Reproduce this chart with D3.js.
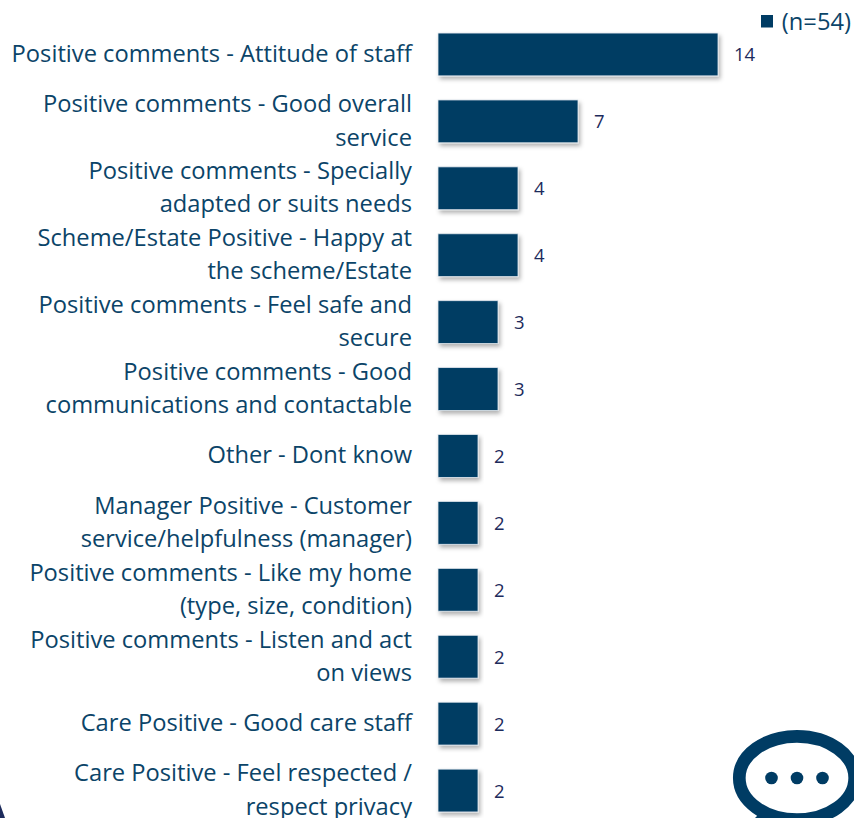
<!DOCTYPE html>
<html>
<head>
<meta charset="utf-8">
<script src="https://cdn.jsdelivr.net/npm/d3@7"></script>
<style>
  html, body { margin: 0; padding: 0; background: #fff; overflow: hidden; }
  text { font-family: "Open Sans", sans-serif; }
</style>
</head>
<body>
<svg id="chart" width="854" height="818"></svg>
<script>
// labels are split on | where the original wraps
const categories = [
  "Positive comments - Attitude of staff",
  "Positive comments - Good overall|service",
  "Positive comments - Specially|adapted or suits needs",
  "Scheme/Estate Positive - Happy at|the scheme/Estate",
  "Positive comments - Feel safe and|secure",
  "Positive comments - Good|communications and contactable",
  "Other - Dont know",
  "Manager Positive - Customer|service/helpfulness (manager)",
  "Positive comments - Like my home|(type, size, condition)",
  "Positive comments - Listen and act|on views",
  "Care Positive - Good care staff",
  "Care Positive - Feel respected /|respect privacy"
];
const values = [14, 7, 4, 4, 3, 3, 2, 2, 2, 2, 2, 2];
const seriesName = "(n=54)";

const navy = "#003c64";
const labelColor = "#0b4468";
const valueColor = "#1d2b5c";

let svg = d3.select("#chart");

// soft shadow on the bars
let defs = svg.append("defs");
let shadow = defs.append("filter")
  .attr("id", "barShadow")
  .attr("x", "-10%").attr("y", "-20%")
  .attr("width", "125%").attr("height", "150%");
shadow.append("feDropShadow")
  .attr("dx", 2).attr("dy", 3)
  .attr("stdDeviation", 2)
  .attr("flood-color", "#000")
  .attr("flood-opacity", 0.3);

let xScale = d3.scaleLinear().domain([0, 14]).range([438, 718]);

let yScale = d3.scaleBand()
  .domain(categories)
  .range([21, 824])
  .paddingInner(0.36)
  .paddingOuter(0.18);

// category axis, tick text gets replaced by wrapped lines
let yAxis = d3.axisLeft(yScale).tickSize(0).tickPadding(0);
let gY = svg.append("g")
  .attr("transform", "translate(412,0)")
  .call(yAxis);
gY.select(".domain").remove();
gY.selectAll("text").each(function (d) {
  let lines = d.split("|");
  let t = d3.select(this)
    .text(null)
    .attr("x", 0)
    .attr("y", 0)
    .attr("dy", null)
    .attr("text-anchor", "end")
    .style("font-family", '"Open Sans", sans-serif')
    .style("font-size", "23.7px")
    .attr("fill", labelColor);
  lines.forEach((line, i) => {
    t.append("tspan")
      .attr("x", 0)
      .attr("y", (i - (lines.length - 1) / 2) * 33.4 + 7.5)
      .text(line);
  });
});

// bars
svg.append("g").selectAll("rect")
  .data(values)
  .enter()
  .append("rect")
  .attr("x", xScale(0))
  .attr("y", (d, i) => yScale(categories[i]))
  .attr("width", d => xScale(d) - xScale(0))
  .attr("height", yScale.bandwidth())
  .attr("fill", navy)
  .attr("stroke", "#dfe6ec")
  .attr("stroke-width", 0.8)
  .attr("filter", "url(#barShadow)");

// value labels
svg.append("g").selectAll("text")
  .data(values)
  .enter()
  .append("text")
  .attr("x", d => xScale(d) + 16)
  .attr("y", (d, i) => yScale(categories[i]) + yScale.bandwidth() / 2 + 7)
  .attr("font-size", 18.5)
  .attr("fill", valueColor)
  .text(d => d);

// legend
svg.append("rect")
  .attr("x", 761).attr("y", 15)
  .attr("width", 12).attr("height", 12.5)
  .attr("fill", navy);
svg.append("text")
  .attr("x", 851).attr("y", 30)
  .attr("text-anchor", "end")
  .attr("font-size", 23.7)
  .attr("fill", labelColor)
  .text(seriesName);

// speech bubble decoration, bottom right
let bubble = svg.append("g").attr("transform", "translate(797,778)");
bubble.append("path")
  .attr("d", d3.line()([[-42, 40], [-28, 26], [-20, 40]]))
  .attr("fill", navy);
bubble.append("ellipse")
  .attr("rx", 57.7).attr("ry", 41.7)
  .attr("fill", "#fff")
  .attr("stroke", navy)
  .attr("stroke-width", 12.7);
bubble.selectAll("circle")
  .data([-25.5, 0, 25.5])
  .enter()
  .append("circle")
  .attr("cx", d => d)
  .attr("r", 6.3)
  .attr("fill", navy);

// corner of the dark shape, bottom left
svg.append("path")
  .attr("d", d3.line()([[0, 804], [5, 818], [0, 818]]))
  .attr("fill", "#1d2b5c");
</script>
</body>
</html>
